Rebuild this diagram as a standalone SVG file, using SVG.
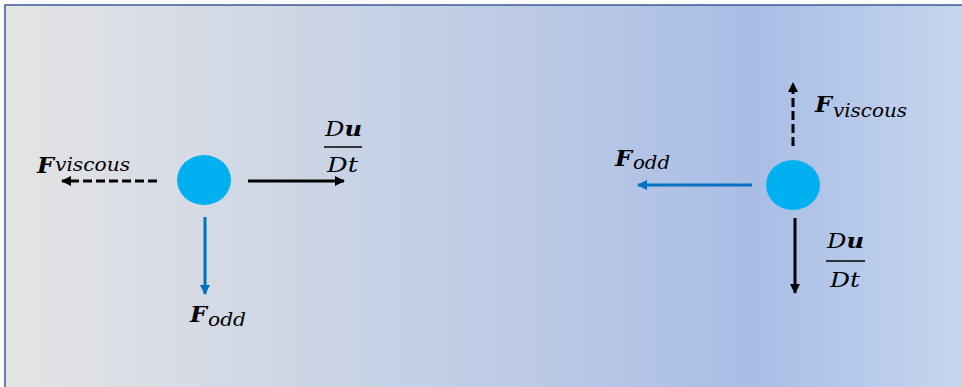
<svg xmlns="http://www.w3.org/2000/svg" width="962" height="387" viewBox="0 0 962 387">
  <defs>
    <linearGradient id="bg" x1="0" y1="0" x2="1" y2="0">
      <stop offset="0" stop-color="#e4e4e4"/>
      <stop offset="0.45" stop-color="#c3cfe6"/>
      <stop offset="0.78" stop-color="#a9bde5"/>
      <stop offset="1" stop-color="#c6d6ef"/>
    </linearGradient>
    <marker id="ahk" viewBox="0 0 10 10" refX="9" refY="5" markerWidth="11" markerHeight="10" markerUnits="userSpaceOnUse" orient="auto">
      <path d="M0,0 L10,5 L0,10 Z" fill="#000"/>
    </marker>
    <marker id="ahb" viewBox="0 0 10 10" refX="9" refY="5" markerWidth="11" markerHeight="10" markerUnits="userSpaceOnUse" orient="auto">
      <path d="M0,0 L10,5 L0,10 Z" fill="#0070C0"/>
    </marker>
  </defs>
  <style>
    .particle { fill: #00B0F0; }
    .solid { stroke: #000; stroke-width: 3; fill: none; }
    .dash { stroke: #000; stroke-width: 3; fill: none; stroke-dasharray: 9 4; }
    .blue { stroke: #0070C0; stroke-width: 3; fill: none; }
    .F { font-family: "DejaVu Serif", "Liberation Serif", serif; font-style: italic; font-weight: bold; font-size: 22px; fill: #000; }
    .sub { font-family: "DejaVu Serif", "Liberation Serif", serif; font-style: italic; font-size: 19px; fill: #000; }
    .frac { font-family: "DejaVu Serif", "Liberation Serif", serif; font-style: italic; font-size: 21px; fill: #000; }
    .fb { font-weight: bold; }
  </style>
  <rect x="5" y="5" width="960" height="390" fill="url(#bg)" stroke="#3b5998" stroke-width="1.5"/>

  <g id="connectors">
    <line class="dash" x1="157" y1="181" x2="62" y2="181" marker-end="url(#ahk)"/>
    <line class="solid" x1="248" y1="181" x2="344" y2="181" marker-end="url(#ahk)"/>
    <line class="blue" x1="205" y1="217" x2="205" y2="294" marker-end="url(#ahb)"/>
    <line class="dash" x1="793" y1="146" x2="793" y2="83" marker-end="url(#ahk)"/>
    <line class="blue" x1="752" y1="185" x2="638" y2="185" marker-end="url(#ahb)"/>
    <line class="solid" x1="795" y1="218" x2="795" y2="293" marker-end="url(#ahk)"/>
  </g>

  <g id="particle-left">
    <ellipse class="particle" cx="204" cy="180" rx="27" ry="25"/>
  </g>
  <g id="particle-right">
    <ellipse class="particle" cx="793" cy="185" rx="27" ry="25"/>
  </g>

  <g id="label-left-viscous">
    <text class="F" x="37" y="173" textLength="17" lengthAdjust="spacingAndGlyphs">F</text>
    <text class="sub" x="55" y="171" textLength="75" lengthAdjust="spacingAndGlyphs">viscous</text>
  </g>
  <g id="label-left-dudt">
    <text class="frac" x="325" y="136" textLength="37" lengthAdjust="spacingAndGlyphs">D<tspan class="fb">u</tspan></text>
    <line x1="324" y1="147" x2="362" y2="147" stroke="#000" stroke-width="1.5"/>
    <text class="frac" x="327" y="172" textLength="31" lengthAdjust="spacingAndGlyphs">Dt</text>
  </g>
  <g id="label-left-odd">
    <text class="F" x="190" y="322" textLength="17" lengthAdjust="spacingAndGlyphs">F</text>
    <text class="sub" x="208" y="326" textLength="38" lengthAdjust="spacingAndGlyphs">odd</text>
  </g>

  <g id="label-right-viscous">
    <text class="F" x="815" y="112" textLength="17" lengthAdjust="spacingAndGlyphs">F</text>
    <text class="sub" x="833" y="117" textLength="74" lengthAdjust="spacingAndGlyphs">viscous</text>
  </g>
  <g id="label-right-odd">
    <text class="F" x="615" y="166" textLength="17" lengthAdjust="spacingAndGlyphs">F</text>
    <text class="sub" x="633" y="169" textLength="37" lengthAdjust="spacingAndGlyphs">odd</text>
  </g>
  <g id="label-right-dudt">
    <text class="frac" x="827" y="248" textLength="37" lengthAdjust="spacingAndGlyphs">D<tspan class="fb">u</tspan></text>
    <line x1="826" y1="261" x2="865" y2="261" stroke="#000" stroke-width="1.5"/>
    <text class="frac" x="830" y="287" textLength="30" lengthAdjust="spacingAndGlyphs">Dt</text>
  </g>
</svg>
